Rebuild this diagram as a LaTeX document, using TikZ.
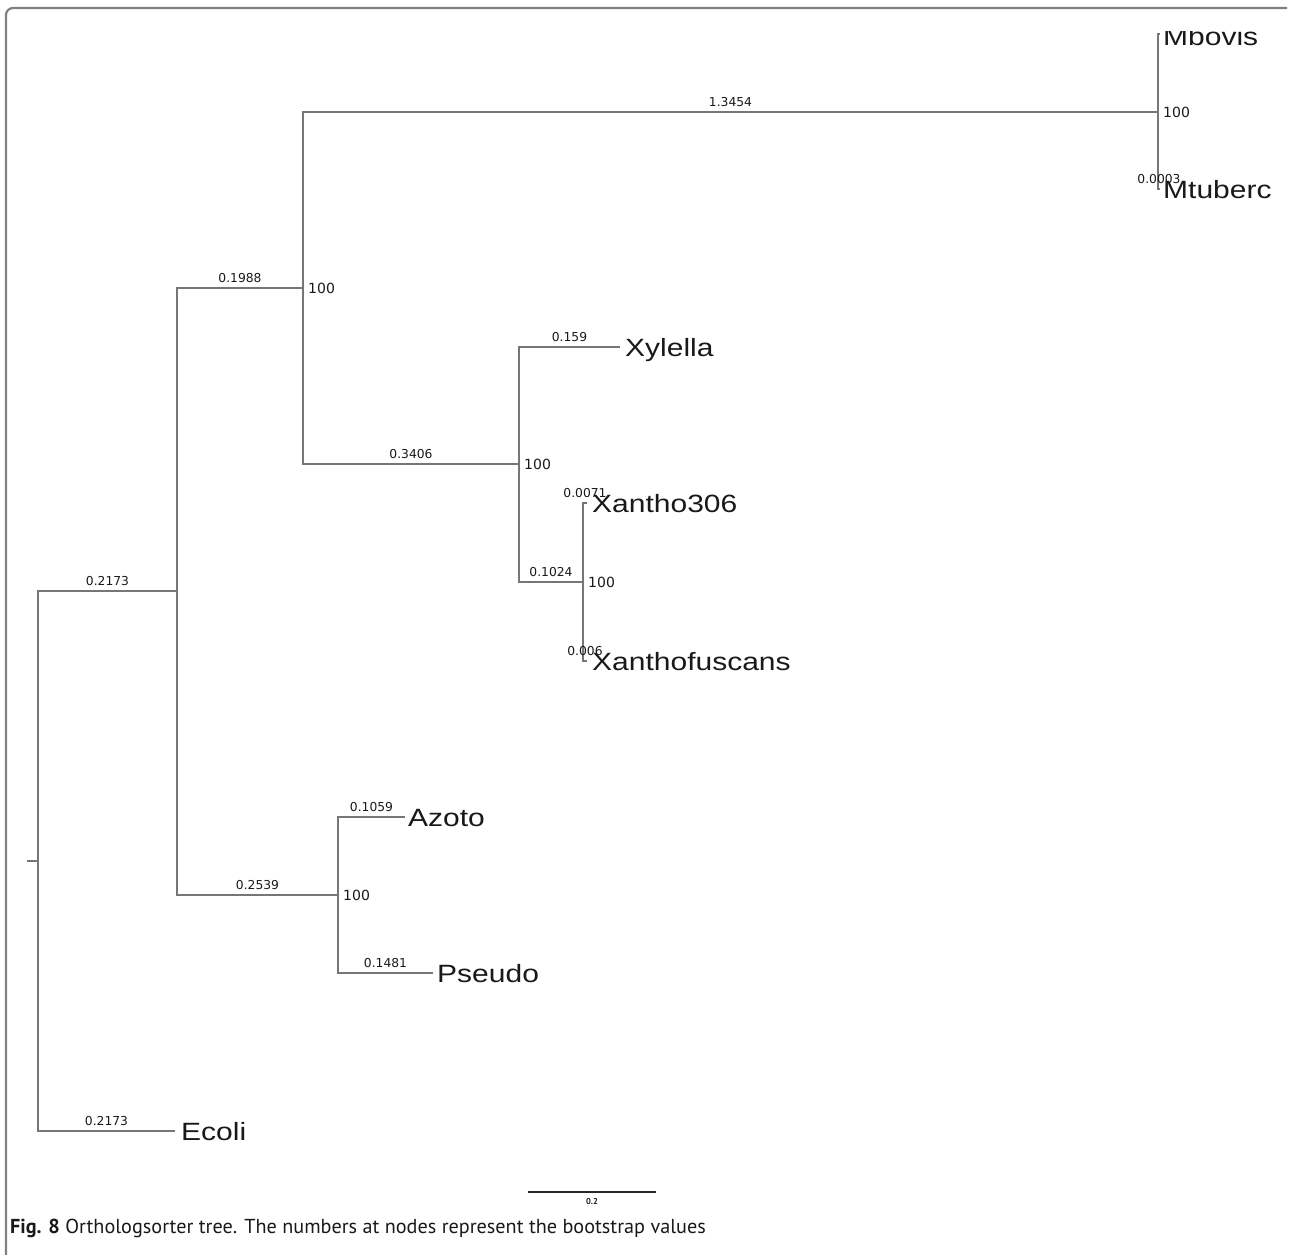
\documentclass[tikz,border=0pt]{standalone}
\usepackage{fontspec}
\newfontfamily\taxfont[FakeStretch=1.2]{Liberation Sans}
\newfontfamily\numfont{DejaVu Sans}
\newfontfamily\capfont{PT Sans}
\definecolor{treegray}{RGB}{118,118,118}
\definecolor{framegray}{RGB}{128,128,128}
\definecolor{txt}{RGB}{25,25,25}
\begin{document}
\begin{tikzpicture}[x=1pt,y=-1pt,
  branch/.style={draw=treegray, line width=1.4pt},
  taxon/.style={anchor=base west, inner sep=0pt, text=txt, font=\taxfont\fontsize{25}{30}\selectfont},
  blen/.style={anchor=base, inner sep=0pt, yshift=5.5pt, text=txt, font=\numfont\fontsize{12.3}{14}\selectfont},
  boot/.style={anchor=west, inner sep=0pt, text=txt, font=\numfont\fontsize{14}{16}\selectfont},
  framebox/.style={draw=framegray, line width=2.2pt, rounded corners=7pt},
]
\useasboundingbox (0,0) rectangle (1289,1254);
% frame
\draw[framebox] (6,1256) -- (6,8) -- (1287,8);

% tree vertices
\coordinate (rootstub) at (27,861);
\coordinate (root) at (38,861);
\coordinate (nA) at (177,591);
\coordinate (nB) at (303,288);
\coordinate (nM) at (1158,112);
\coordinate (nC) at (519,464);
\coordinate (nD) at (583,582);
\coordinate (nE) at (338,895);
\coordinate (tMbovis) at (1160,34);
\coordinate (tMtuberc) at (1160,189);
\coordinate (tXylella) at (620,347);
\coordinate (tXthree) at (587,503);
\coordinate (tXfus) at (587,661);
\coordinate (tAzoto) at (405,817);
\coordinate (tPseudo) at (433,973);
\coordinate (tEcoli) at (175,1131);

% branches
\draw[branch] (rootstub) -- (root);
\draw[branch] (root) |- (nA) node[blen,pos=0.75] {0.2173};
\draw[branch] (root) |- (tEcoli) node[blen,pos=0.75] {0.2173};
\draw[branch] (nA) |- (nB) node[blen,pos=0.75] {0.1988};
\draw[branch] (nA) |- (nE) node[blen,pos=0.75] {0.2539};
\draw[branch] (nB) |- (nM) node[blen,pos=0.75] {1.3454};
\draw[branch] (nB) |- (nC) node[blen,pos=0.75] {0.3406};
\draw[branch] (nM) |- (tMbovis);
\draw[branch] (nM) |- (tMtuberc) node[blen,pos=0.75] {0.0003};
\draw[branch] (nC) |- (tXylella) node[blen,pos=0.75] {0.159};
\draw[branch] (nC) |- (nD) node[blen,pos=0.75] {0.1024};
\draw[branch] (nD) |- (tXthree) node[blen,pos=0.75] {0.0071};
\draw[branch] (nD) |- (tXfus) node[blen,pos=0.75] {0.006};
\draw[branch] (nE) |- (tAzoto) node[blen,pos=0.75] {0.1059};
\draw[branch] (nE) |- (tPseudo) node[blen,pos=0.75] {0.1481};

% bootstrap values
\node[boot] (bB) at ([xshift=5pt]nB) {100};
\node[boot] (bM) at ([xshift=5pt]nM) {100};
\node[boot] (bC) at ([xshift=5pt]nC) {100};
\node[boot] (bD) at ([xshift=5pt]nD) {100};
\node[boot] (bE) at ([xshift=5pt]nE) {100};

% taxa
\begin{scope}
\clip (1100,31) rectangle (1289,80);
\node[taxon] (lMbovis) at (1163,45) {Mbovis};
\end{scope}
\node[taxon] (lMtuberc) at (1163,198) {Mtuberc};
\node[taxon] (lXylella) at (625,356) {Xylella};
\node[taxon] (lXthree) at (592,512) {Xantho306};
\node[taxon] (lXfus) at (592,670) {Xanthofuscans};
\node[taxon] (lAzoto) at (408,826) {Azoto};
\node[taxon] (lPseudo) at (437,982) {Pseudo};
\node[taxon] (lEcoli) at (181,1140) {Ecoli};

% scale bar
\coordinate (sbA) at (528,1192);
\coordinate (sbB) at (656,1192);
\draw[draw=black!85, line width=1.2pt] (sbA) -- (sbB) node[midway, below=6pt, inner sep=0pt, font=\capfont\bfseries\fontsize{8.5}{9}\selectfont, text=txt] (sbl) {0.2};

% caption
\node[anchor=base west, inner sep=0pt, text=txt, font=\capfont\fontsize{20.2}{24}\selectfont] (cap) at (10,1233) {\textbf{Fig. 8} Orthologsorter tree. The numbers at nodes represent the bootstrap values};
\end{tikzpicture}
\end{document}
